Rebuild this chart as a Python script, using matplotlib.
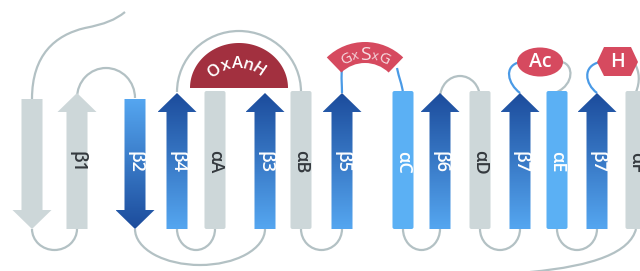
import numpy as np
import matplotlib
matplotlib.use('Agg')
import matplotlib.pyplot as plt
from matplotlib.patches import Polygon, FancyBboxPatch, Arc, Wedge, Ellipse, PathPatch
from matplotlib.path import Path
from matplotlib.colors import LinearSegmentedColormap

plt.rcParams['font.family'] = ['Open Sans', 'DejaVu Sans']

# topology: strands and helices from left to right
labels = ['', 'β1', 'β2', 'β4', 'αA', 'β3', 'αB', 'β5', 'αC', 'β6', 'αD', 'β7', 'αE', 'β7', 'αF']
kinds = ['down', 'up', 'down', 'up', 'helix', 'up', 'helix', 'up', 'helix',
         'up', 'helix', 'up', 'helix', 'up', 'helix']
shades = ['grey', 'grey', 'blue', 'blue', 'grey', 'blue', 'grey', 'blue', 'light',
          'blue', 'grey', 'blue', 'light', 'blue', 'grey']
xpos = [32, 77, 135, 177, 215, 265, 301, 342, 403, 440, 480, 520, 557, 597, 636]

# loops: (from, to, depth)
bottom_loops = [(0, 1, 21), (2, 5, 36), (3, 4, 21), (6, 7, 21), (8, 9, 21), (10, 11, 21), (12, 13, 21)]
top_loops = [(1, 2, 30), (3, 6, 61), (9, 10, 22)]

GREY = '#cdd7d9'
LIGHT = '#5bb0f4'
DARK = '#1c4c9c'
MID = '#55a6f0'
LOOP = '#b3c1c4'
LINK = '#4a9ae6'
RED = '#d64a5f'
DARKRED = '#a2303f'

TOP, BOT = 93, 229

fig = plt.figure(figsize=(6.4, 2.71), dpi=100)
ax = fig.add_axes([0, 0, 1, 1])

def curve(pts, color, lw=1.6, z=1):
    codes = [Path.MOVETO] + [Path.CURVE4] * (len(pts) - 1)
    ax.add_patch(PathPatch(Path(pts, codes), fc='none', ec=color, lw=lw, zorder=z))

# loops
for a, b, d in bottom_loops:
    x1, x2 = xpos[a], xpos[b]
    ax.add_patch(Arc(((x1 + x2) / 2, BOT), x2 - x1, 2 * d, theta1=0, theta2=180,
                     color=LOOP, lw=1.6, zorder=1))
for a, b, d in top_loops:
    x1, x2 = xpos[a], xpos[b]
    y0 = 92 if d > 40 else 98
    ax.add_patch(Arc(((x1 + x2) / 2, y0), x2 - x1, 2 * d, theta1=180, theta2=360,
                     color=LOOP, lw=1.6, zorder=1))

# N- and C-terminal tails
curve([(32, 99), (32, 55), (55, 35), (85, 28), (105, 24), (115, 20), (125, 12)], LOOP)
curve([(636, 229), (630, 252), (595, 266), (530, 272)], LOOP)

# motif connectors
curve([(342, 93), (342, 85), (341, 78), (342, 68)], LINK)
curve([(403, 93), (402, 84), (399, 78), (397, 68)], LINK)
curve([(520, 93), (508, 84), (503, 66), (520, 62)], LINK)
curve([(562, 62), (574, 65), (574, 84), (557, 92)], LOOP)
curve([(597, 93), (585, 84), (582, 66), (600, 62)], LINK)
curve([(634, 62), (640, 72), (640, 82), (636, 92)], LOOP)

cmap = LinearSegmentedColormap.from_list('strand', [DARK, MID])
grad = np.linspace(0, 1, 200).reshape(-1, 1)

for x, kind, shade, lab in zip(xpos, kinds, shades, labels):
    if kind == 'helix':
        col = GREY if shade == 'grey' else LIGHT
        ax.add_patch(FancyBboxPatch((x - 10.5, 91), 21, BOT - 91,
                                    boxstyle='round,pad=0,rounding_size=2',
                                    fc=col, ec='none', zorder=2))
    else:
        sw, hw, hl = 10.5, 19.5, 19
        if kind == 'up':
            t = TOP
            pts = [(x, t), (x + hw, t + hl), (x + sw, t + hl), (x + sw, BOT),
                   (x - sw, BOT), (x - sw, t + hl), (x - hw, t + hl)]
        else:
            t = 99
            pts = [(x - sw, t), (x + sw, t), (x + sw, BOT - hl), (x + hw, BOT - hl),
                   (x, BOT), (x - hw, BOT - hl), (x - sw, BOT - hl)]
        if shade == 'grey':
            ax.add_patch(Polygon(pts, closed=True, fc=GREY, ec='none', zorder=2))
        else:
            poly = Polygon(pts, closed=True, fc='none', ec='none', zorder=2)
            ax.add_patch(poly)
            g = grad if kind == 'up' else grad[::-1]
            im = ax.imshow(g, cmap=cmap, extent=(x - hw, x + hw, BOT, t),
                           aspect='auto', zorder=2, interpolation='bilinear')
            im.set_clip_path(poly)
    if lab:
        tc = '#34393e' if shade == 'grey' else 'white'
        ax.text(x + 0.5, 162, lab, rotation=270, ha='center', va='center',
                fontsize=13, color=tc, fontweight='semibold', zorder=4)

# OxAnH dome
th = np.linspace(np.pi, 2 * np.pi, 80)
dome = np.column_stack([239 + 49 * np.cos(th), 88 + 45 * np.sin(th)])
ax.add_patch(Polygon(dome, closed=True, fc=DARKRED, ec='none', zorder=3))
for ch, phi in zip('OxAnH', [-36, -18, 0, 17, 34]):
    r = np.radians(phi)
    ax.text(237 + 37 * np.sin(r), 101 - 37 * np.cos(r), ch, rotation=-phi,
            ha='center', va='center', fontsize=12, color='white',
            fontweight='semibold', zorder=4)

# GxSxG banner
ax.add_patch(Wedge((365, 97), 55, 226, 314, width=21, fc=RED, ec='none', zorder=3))
for ch, phi, fs in zip('GxSxG', [-26, -13, 0, 13, 26], [11, 9, 14, 9, 11]):
    r = np.radians(phi)
    ax.text(365 + 42 * np.sin(r), 97 - 42 * np.cos(r), ch, rotation=-phi,
            ha='center', va='center', fontsize=fs, color='#f6dde2', zorder=4)

# Ac and H
ax.add_patch(Ellipse((540, 62), 46, 29, fc=RED, ec='none', zorder=3))
ax.text(540, 62, 'Ac', ha='center', va='center', fontsize=14, color='white',
        fontweight='semibold', zorder=4)
hexa = [(604, 47), (631, 47), (638, 62), (631, 76), (604, 76), (597, 62)]
ax.add_patch(Polygon(hexa, closed=True, fc=RED, ec='none', zorder=3))
ax.text(617, 62, 'H', ha='center', va='center', fontsize=14, color='white',
        fontweight='semibold', zorder=4)

ax.set_xlim(0, 640)
ax.set_ylim(271, 0)
ax.axis('off')
fig.savefig('out.png', dpi=100, facecolor='white')
